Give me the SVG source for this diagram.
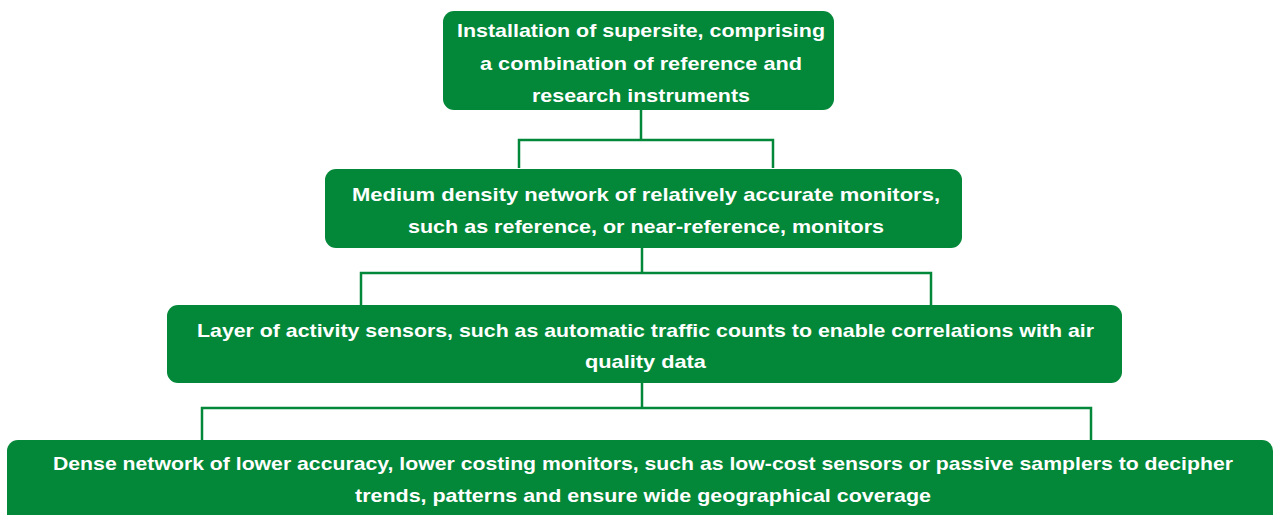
<svg xmlns="http://www.w3.org/2000/svg" width="1276" height="515" viewBox="0 0 1276 515">
<style>
.box{fill:#028838;}
.t{font-family:"Liberation Sans",Arial,sans-serif;font-weight:bold;font-size:18.5px;fill:#ffffff;text-anchor:middle;}
.c{fill:none;stroke:#028838;stroke-width:2.5;}
</style>
<rect width="1276" height="515" fill="#ffffff"/>
<g id="connectors">
<path class="c" d="M641,110 V140 M519,168 V140 H773 V168"/>
<path class="c" d="M642,247 V273 M361,305 V273 H931 V305"/>
<path class="c" d="M642,383 V408 M202,440 V408 H1091 V440"/>
</g>
<g id="node1">
<rect class="box" x="443" y="11" width="391" height="99" rx="11"/>
<text class="t" x="641" y="37" textLength="368" lengthAdjust="spacingAndGlyphs">Installation of supersite, comprising</text>
<text class="t" x="641" y="70" textLength="322" lengthAdjust="spacingAndGlyphs">a combination of reference and</text>
<text class="t" x="641" y="102" textLength="218" lengthAdjust="spacingAndGlyphs">research instruments</text>
</g>
<g id="node2">
<rect class="box" x="325" y="169" width="637" height="79" rx="11"/>
<text class="t" x="646" y="201" textLength="588" lengthAdjust="spacingAndGlyphs">Medium density network of relatively accurate monitors,</text>
<text class="t" x="646" y="233" textLength="476" lengthAdjust="spacingAndGlyphs">such as reference, or near-reference, monitors</text>
</g>
<g id="node3">
<rect class="box" x="167" y="305" width="955" height="78" rx="11"/>
<text class="t" x="645.5" y="337" textLength="897" lengthAdjust="spacingAndGlyphs">Layer of activity sensors, such as automatic traffic counts to enable correlations with air</text>
<text class="t" x="645.5" y="368" textLength="121" lengthAdjust="spacingAndGlyphs">quality data</text>
</g>
<g id="node4">
<rect class="box" x="7" y="440" width="1266" height="90" rx="11"/>
<text class="t" x="643" y="470" textLength="1180" lengthAdjust="spacingAndGlyphs">Dense network of lower accuracy, lower costing monitors, such as low-cost sensors or passive samplers to decipher</text>
<text class="t" x="643" y="502" textLength="576" lengthAdjust="spacingAndGlyphs">trends, patterns and ensure wide geographical coverage</text>
</g>
</svg>
